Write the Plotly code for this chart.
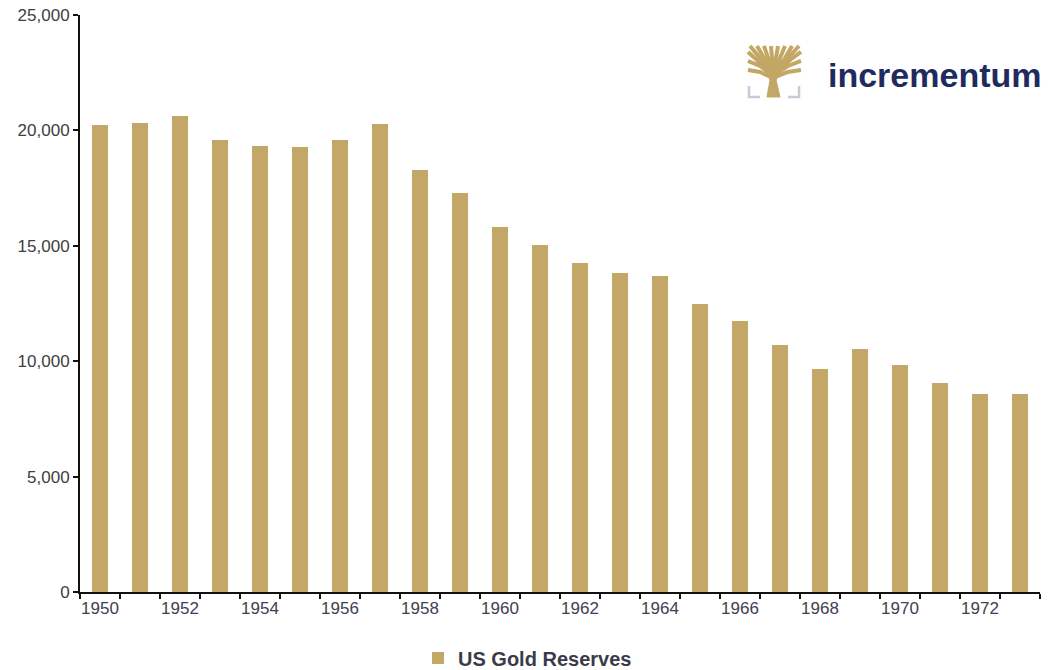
import plotly.graph_objects as go

# US gold reserves (tonnes), 1950-1973
years = list(range(1950, 1974))
reserves = [20230, 20300, 20640, 19580, 19340, 19300, 19580, 20280, 18270,
            17300, 15800, 15040, 14240, 13840, 13710, 12470, 11730, 10700,
            9660, 10520, 9820, 9070, 8600, 8600]
year_labels = [str(y) for y in years if y % 2 == 0]
y_ticks = [0, 5000, 10000, 15000, 20000, 25000]

GOLD = "#C3A766"
NAVY = "#1F2B5E"
W, H = 1049, 670
ML, MR, MT, MB = 80, 9, 15, 78

fig = go.Figure()
fig.add_trace(go.Bar(
    x=years, y=reserves, name="US Gold Reserves",
    marker=dict(color=GOLD, line=dict(width=0)), width=0.42,
))


def px(x, y):
    """Pixel position on the page -> paper coordinates."""
    return (x - ML) / (W - ML - MR), (H - MB - y) / (H - MT - MB)


shapes = []


def path(points, color, width, closed=False, fill=None):
    pts = [px(x, y) for x, y in points]
    d = "M " + " L ".join(f"{a:.4f},{b:.4f}" for a, b in pts) + (" Z" if closed else "")
    s = dict(type="path", xref="paper", yref="paper", path=d,
             line=dict(color=color, width=width), layer="above")
    if fill:
        s["fillcolor"] = fill
    shapes.append(s)


# logo: stylised tree, trunk
path([(767, 97), (770, 80), (766, 72), (780, 72), (776, 80), (780, 97)],
     GOLD, 1, closed=True, fill=GOLD)
# logo: branches fanning out into a square canopy
for pts in [
    [(773, 76), (760, 66), (748, 61)],
    [(773, 76), (757, 60), (748, 52)],
    [(773, 76), (760, 58), (750, 46)],
    [(773, 76), (764, 58), (757, 46)],
    [(773, 76), (768, 58), (764, 46)],
    [(773, 76), (772, 58), (771, 46)],
    [(773, 76), (776, 58), (778, 46)],
    [(773, 76), (780, 58), (785, 46)],
    [(773, 76), (785, 58), (792, 46)],
    [(773, 76), (788, 58), (799, 46)],
    [(773, 76), (790, 60), (801, 52)],
    [(773, 76), (788, 66), (801, 61)],
    [(773, 78), (760, 72), (748, 70)],
    [(773, 78), (788, 72), (801, 70)],
]:
    path(pts, GOLD, 4)
# logo: base brackets
path([(749, 86), (749, 97), (760, 97)], "#C9CAD8", 2.5)
path([(799, 86), (799, 97), (788, 97)], "#C9CAD8", 2.5)

lx, ly = px(826, 75)
fig.add_annotation(x=lx, y=ly, xref="paper", yref="paper", text="<b>incrementum</b>",
                   showarrow=False, xanchor="left", yanchor="middle",
                   font=dict(family="Liberation Sans", size=34, color=NAVY))

fig.update_layout(
    width=W, height=H,
    margin=dict(l=ML, r=MR, t=MT, b=MB, autoexpand=False),
    paper_bgcolor="white", plot_bgcolor="white",
    font=dict(family="Liberation Sans", size=16, color="#404040"),
    shapes=shapes,
    showlegend=True,
    legend=dict(orientation="h", x=px(418, 0)[0], xanchor="left",
                y=px(0, 658)[1], yanchor="middle",
                font=dict(size=20, color="#3A3B4A", weight="bold"),
                itemwidth=30),
    bargap=0,
)
fig.update_xaxes(
    range=[1949.5, 1973.5], tickmode="array",
    tickvals=[y for y in years if y % 2 == 0], ticktext=year_labels,
    ticks="", showgrid=False, zeroline=False,
    showline=True, linecolor="#111111", linewidth=2,
    minor=dict(ticks="outside", tick0=1949.5, dtick=1, ticklen=5,
               tickcolor="#111111", tickwidth=2, showgrid=False),
    tickfont=dict(size=17, color="#404050"),
)
fig.update_yaxes(
    range=[0, 25000], tickmode="array", tickvals=y_ticks,
    ticktext=[f"{v:,}" for v in y_ticks],
    ticks="outside", ticklen=5, tickwidth=2, tickcolor="#111111",
    showgrid=False, zeroline=False,
    showline=True, linecolor="#111111", linewidth=2,
    tickfont=dict(size=17, color="#404040"),
)

fig.write_html("out.html")
